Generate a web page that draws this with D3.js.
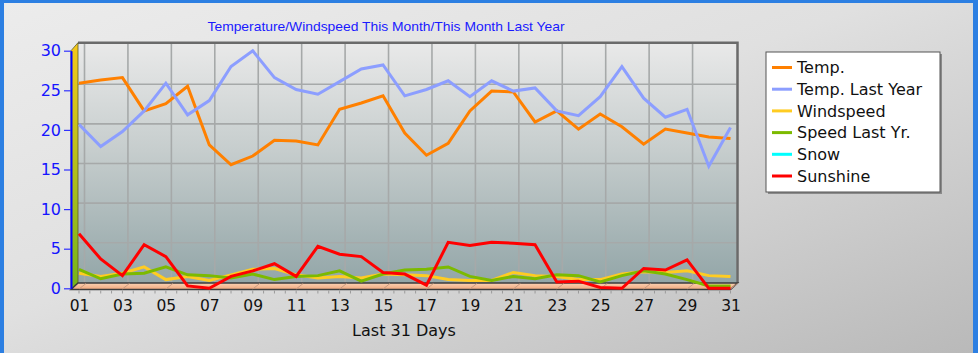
<!DOCTYPE html>
<html>
<head>
<meta charset="utf-8">
<script src="https://cdn.jsdelivr.net/npm/d3@7"></script>
<style>
    body { margin: 0; }
    svg { display: block; font-family: 'DejaVu Sans', sans-serif; }
</style>
</head>
<body>
<svg width="978" height="353"></svg>
<script>
const days = d3.range(1, 32);
const dayTicks = [1, 3, 5, 7, 9, 11, 13, 15, 17, 19, 21, 23, 25, 27, 29, 31];
const valueTicks = [0, 5, 10, 15, 20, 25, 30];

const temp = [25.9, 26.3, 26.6, 22.4, 23.3, 25.5, 18.1, 15.6, 16.7, 18.7, 18.6, 18.1, 22.6, 23.4, 24.3, 19.6,
    16.8, 18.3, 22.4, 24.9, 24.8, 21.0, 22.4, 20.1, 22.0, 20.4, 18.2, 20.1, 19.6, 19.1, 18.9];
const tempLastYear = [20.7, 17.9, 19.8, 22.4, 25.9, 21.9, 23.7, 28.0, 30.0, 26.6, 25.1, 24.5, 26.1, 27.7, 28.2, 24.3,
    25.1, 26.2, 24.2, 26.2, 24.9, 25.3, 22.4, 21.8, 24.2, 28.0, 24.0, 21.6, 22.6, 15.4, 20.3];
const windspeed = [1.9, 1.5, 1.9, 2.7, 1.1, 1.5, 1.0, 1.7, 2.4, 2.5, 1.7, 1.3, 1.5, 1.3, 1.8, 1.7,
    1.6, 1.1, 1.0, 1.0, 2.0, 1.6, 1.5, 1.1, 1.1, 1.8, 2.1, 2.0, 2.2, 1.6, 1.5];
const speedLastYr = [2.4, 1.2, 1.8, 1.9, 2.7, 1.7, 1.6, 1.3, 1.8, 1.1, 1.5, 1.6, 2.2, 0.9, 1.8, 2.3,
    2.4, 2.7, 1.5, 1.0, 1.5, 1.2, 1.7, 1.6, 0.8, 1.6, 2.2, 1.8, 1.1, 0.3, 0.3];
const snow = [];
const sunshine = [6.9, 3.7, 1.6, 5.5, 4.0, 0.3, 0.0, 1.5, 2.2, 3.1, 1.5, 5.3, 4.3, 4.0, 2.0, 1.8,
    0.4, 5.8, 5.4, 5.8, 5.7, 5.5, 0.8, 0.9, 0.1, 0.0, 2.5, 2.3, 3.6, 0.0, 0.0];

const seriesNames = ['Temp.', 'Temp. Last Year', 'Windspeed', 'Speed Last Yr.', 'Snow', 'Sunshine'];
const seriesValues = [temp, tempLastYear, windspeed, speedLastYr, snow, sunshine];
const seriesColors = ['#ff8000', '#8c9eff', '#ffcc22', '#7cba00', '#00ffff', '#ff0000'];

const svg = d3.select('svg');
const defs = svg.append('defs');

// background + window frame
const bg = defs.append('linearGradient').attr('id', 'bg')
    .attr('x1', 0).attr('y1', 0).attr('x2', 1).attr('y2', 1);
bg.append('stop').attr('offset', '0%').attr('stop-color', '#ececec');
bg.append('stop').attr('offset', '45%').attr('stop-color', '#e0e0e0');
bg.append('stop').attr('offset', '100%').attr('stop-color', '#b9b9b9');

const wall = defs.append('linearGradient').attr('id', 'wall')
    .attr('x1', 0).attr('y1', 0).attr('x2', 0).attr('y2', 1);
wall.append('stop').attr('offset', '0%').attr('stop-color', '#e9e9e9');
wall.append('stop').attr('offset', '45%').attr('stop-color', '#c6cdcd');
wall.append('stop').attr('offset', '100%').attr('stop-color', '#93a6a8');

const side = defs.append('linearGradient').attr('id', 'side')
    .attr('x1', 0).attr('y1', 0).attr('x2', 0).attr('y2', 1);
side.append('stop').attr('offset', '0%').attr('stop-color', '#f6c81a');
side.append('stop').attr('offset', '100%').attr('stop-color', '#74b41c');

const floor = defs.append('linearGradient').attr('id', 'floor')
    .attr('x1', 0).attr('y1', 0).attr('x2', 0).attr('y2', 1);
floor.append('stop').attr('offset', '0%').attr('stop-color', '#fbd2b4');
floor.append('stop').attr('offset', '100%').attr('stop-color', '#f0a77c');

svg.append('rect').attr('width', 978).attr('height', 353).attr('fill', 'url(#bg)');
svg.append('rect').attr('width', 978).attr('height', 3).attr('fill', '#2c7fe2');
svg.append('rect').attr('width', 4).attr('height', 353).attr('fill', '#2c7fe2');
svg.append('rect').attr('x', 973).attr('width', 5).attr('height', 353).attr('fill', '#2c7fe2');

// scales
const x = d3.scaleLinear().domain([1, 31]).range([79, 730.5]);
const y = d3.scaleLinear().domain([0, 30]).range([288.3, 50.7]);
const depth = 7;
const left = 71;
const right = 729.5;
const floorY = 289.5;
const backTop = y(30) - 8;
const backBottom = floorY - 6.5;

// back wall
svg.append('rect')
    .attr('x', left + depth)
    .attr('y', backTop)
    .attr('width', right - left)
    .attr('height', backBottom - backTop)
    .attr('fill', 'url(#wall)');

const grid = svg.append('g').attr('stroke', '#a6a9a9').attr('stroke-width', 1.6);
grid.selectAll('.hgrid')
    .data(valueTicks.filter((v) => v > 0 && v < 30))
    .enter()
    .append('line')
    .attr('x1', left + depth).attr('x2', right + depth)
    .attr('y1', (v) => y(v) - 6).attr('y2', (v) => y(v) - 6);
grid.selectAll('.vgrid')
    .data(dayTicks.slice(0, -1))
    .enter()
    .append('line')
    .attr('x1', (d) => x(d) + 5.5).attr('x2', (d) => x(d) + 5.5)
    .attr('y1', backTop).attr('y2', backBottom);

svg.append('path')
    .attr('d', `M${left + depth},${backTop}H${right + depth + 1}V${backBottom}`)
    .attr('fill', 'none')
    .attr('stroke', '#6a6a6a')
    .attr('stroke-width', 2.5);

// left wall
svg.append('path')
    .attr('d', `M${left},${y(30)}L${left + depth},${backTop}L${left + depth},${backBottom}L${left},${floorY}Z`)
    .attr('fill', 'url(#side)')
    .attr('stroke', '#5a5a2a')
    .attr('stroke-width', 0.8);

// floor
svg.append('path')
    .attr('d', `M${left},${floorY}L${left + depth},${backBottom}L${right + depth + 1},${backBottom}L${right + 1},${floorY}Z`)
    .attr('fill', 'url(#floor)')
    .attr('stroke', '#3c3c3c')
    .attr('stroke-width', 1.5);

svg.append('g')
    .attr('stroke', '#c89a80')
    .attr('stroke-width', 1)
    .selectAll('line')
    .data(dayTicks)
    .enter()
    .append('line')
    .attr('x1', (d) => x(d)).attr('y1', floorY - 0.5)
    .attr('x2', (d) => x(d) + depth).attr('y2', backBottom + 0.5);

// small ticks under the floor
svg.append('g')
    .attr('stroke', '#9a9a9a')
    .selectAll('line')
    .data(d3.range(1, 31.01, 0.5))
    .enter()
    .append('line')
    .attr('x1', (d) => x(d)).attr('x2', (d) => x(d))
    .attr('y1', floorY + 1).attr('y2', floorY + 4);

// y axis
const yAxis = svg.append('g')
    .attr('transform', `translate(${left}, 0)`)
    .call(d3.axisLeft(y).tickValues(valueTicks).tickSize(7).tickPadding(3).tickSizeOuter(0));
yAxis.select('.domain').attr('stroke', '#0000ff').attr('stroke-width', 2);
yAxis.selectAll('.tick line').attr('stroke', '#3030ff').attr('stroke-width', 1.2);
yAxis.selectAll('.tick text')
    .attr('fill', '#1515ff')
    .attr('font-size', 16)
    .attr('font-family', 'DejaVu Sans, sans-serif');

// x axis labels
const xAxis = svg.append('g')
    .attr('transform', `translate(0, ${floorY})`)
    .call(d3.axisBottom(x).tickValues(dayTicks).tickSize(0).tickPadding(10)
        .tickFormat((d) => d3.format('02d')(d)));
xAxis.select('.domain').remove();
xAxis.selectAll('.tick text')
    .attr('fill', '#111')
    .attr('font-size', 15.5)
    .attr('font-family', 'DejaVu Sans, sans-serif');

// series
const line = d3.line()
    .x((d, i) => x(days[i]))
    .y((d) => y(d));

svg.append('g')
    .selectAll('path')
    .data(seriesValues)
    .enter()
    .append('path')
    .attr('d', (s) => s.length ? line(s) : null)
    .attr('fill', 'none')
    .attr('stroke', (s, i) => seriesColors[i])
    .attr('stroke-width', 3);

// titles
svg.append('text')
    .attr('x', 386)
    .attr('y', 31)
    .attr('text-anchor', 'middle')
    .attr('font-family', 'Liberation Sans, Arial, sans-serif')
    .attr('font-size', 13.5)
    .attr('textLength', 357)
    .attr('lengthAdjust', 'spacingAndGlyphs')
    .attr('fill', '#1a1aff')
    .text('Temperature/Windspeed This Month/This Month Last Year');

svg.append('text')
    .attr('x', 404)
    .attr('y', 336)
    .attr('text-anchor', 'middle')
    .attr('font-size', 16)
    .attr('fill', '#111')
    .text('Last 31 Days');

// legend
const legend = svg.append('g').attr('transform', 'translate(766, 52)');
legend.append('rect')
    .attr('x', 2).attr('y', 2)
    .attr('width', 174).attr('height', 140)
    .attr('fill', '#8a8a8a');
legend.append('rect')
    .attr('width', 174).attr('height', 140)
    .attr('fill', '#fff')
    .attr('stroke', '#555')
    .attr('stroke-width', 1);

const items = legend.selectAll('.item')
    .data(seriesNames)
    .enter()
    .append('g')
    .attr('transform', (d, i) => `translate(0, ${15.5 + i * 21.7})`);
items.append('line')
    .attr('x1', 6).attr('x2', 26)
    .attr('stroke', (d, i) => seriesColors[i])
    .attr('stroke-width', 3);
items.append('text')
    .attr('x', 31)
    .attr('dy', '0.36em')
    .attr('font-size', 16)
    .attr('fill', '#111')
    .text((d) => d);
</script>
</body>
</html>
